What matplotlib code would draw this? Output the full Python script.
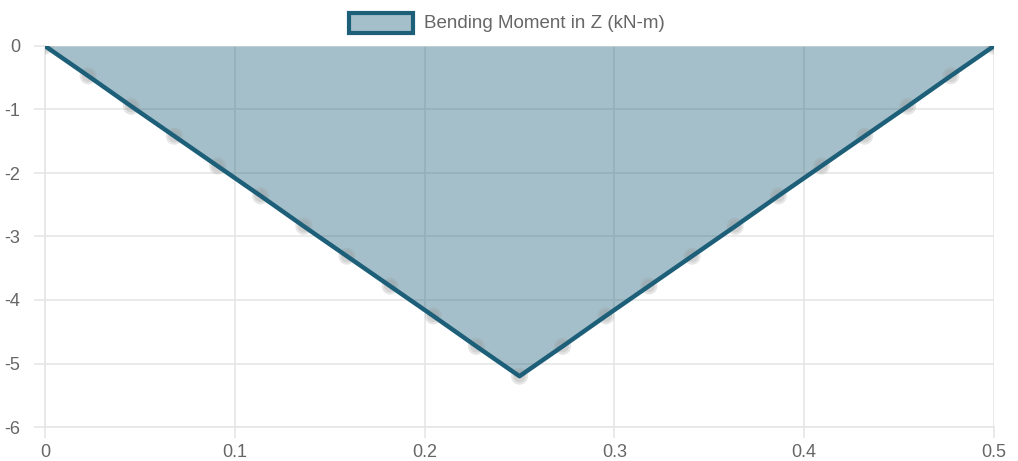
import matplotlib.pyplot as plt
from matplotlib.patches import Rectangle

# Bending moment diagram along the member (position in m, moment in kN-m)
positions = [0.0, 0.0227, 0.0455, 0.0682, 0.0909, 0.1136, 0.1364, 0.1591,
             0.1818, 0.2045, 0.2273, 0.25, 0.2727, 0.2955, 0.3182, 0.3409,
             0.3636, 0.3864, 0.4091, 0.4318, 0.4545, 0.4773, 0.5]
moment_z = [0.0, -0.47, -0.95, -1.42, -1.89, -2.36, -2.84, -3.31,
            -3.78, -4.25, -4.73, -5.2, -4.73, -4.25, -3.78, -3.31,
            -2.84, -2.36, -1.89, -1.42, -0.95, -0.47, 0.0]
series_label = "Bending Moment in Z (kN-m)"
x_ticks = [0, 0.1, 0.2, 0.3, 0.4, 0.5]
x_tick_labels = ["0", "0.1", "0.2", "0.3", "0.4", "0.5"]
y_ticks = [0, -1, -2, -3, -4, -5, -6]

line_color = "#1d5f78"
grid_color = "#e6e6e6"
text_color = "#666666"

W, H = 1018, 461
fig = plt.figure(figsize=(W / 100, H / 100), dpi=100)
ax = fig.add_axes([45 / W, (H - 427) / H, (994 - 45) / W, (427 - 46) / H])

ax.fill_between(positions, moment_z, 0, color=line_color, alpha=0.4,
                linewidth=0, zorder=2)
# soft halo around each data point, under the line
ax.scatter(positions, moment_z, s=150, color="#9a9a9a", alpha=0.25,
           edgecolors="none", zorder=3)
ax.scatter(positions, moment_z, s=80, color="#9a9a9a", alpha=0.25,
           edgecolors="none", zorder=3)
ax.plot(positions, moment_z, color=line_color, linewidth=3.2, zorder=4,
        solid_joinstyle="round")

ax.set_xlim(0, 0.5)
ax.set_ylim(-6, 0)
ax.set_xticks(x_ticks)
ax.set_xticklabels(x_tick_labels)
ax.set_yticks(y_ticks)
ax.set_yticklabels([str(v) for v in y_ticks])

ax.grid(True, color=grid_color, linewidth=1.2, zorder=0)
ax.set_axisbelow(True)
for side in ["top", "right"]:
    ax.spines[side].set_visible(False)
for side in ["left", "bottom"]:
    ax.spines[side].set_color(grid_color)
    ax.spines[side].set_linewidth(1.2)
ax.tick_params(axis="both", colors=grid_color, labelcolor=text_color,
               labelsize=13, length=8, width=1.2)
ax.tick_params(axis="x", pad=4)
ax.tick_params(axis="y", pad=10)
for lbl in ax.get_xticklabels() + ax.get_yticklabels():
    lbl.set_family("Liberation Sans")

# Legend entry centred above the plot
fig.patches.append(Rectangle((349 / W, (H - 33) / H), 64 / W, 20 / H,
                             transform=fig.transFigure, facecolor=line_color,
                             alpha=0.4, edgecolor="none"))
fig.patches.append(Rectangle((349 / W, (H - 33) / H), 64 / W, 20 / H,
                             transform=fig.transFigure, facecolor="none",
                             edgecolor=line_color, linewidth=3))
fig.text(424 / W, (H - 23) / H, series_label, color=text_color, fontsize=13.5,
         family="Liberation Sans", va="center", ha="left")

fig.savefig("out.png", dpi=100)
